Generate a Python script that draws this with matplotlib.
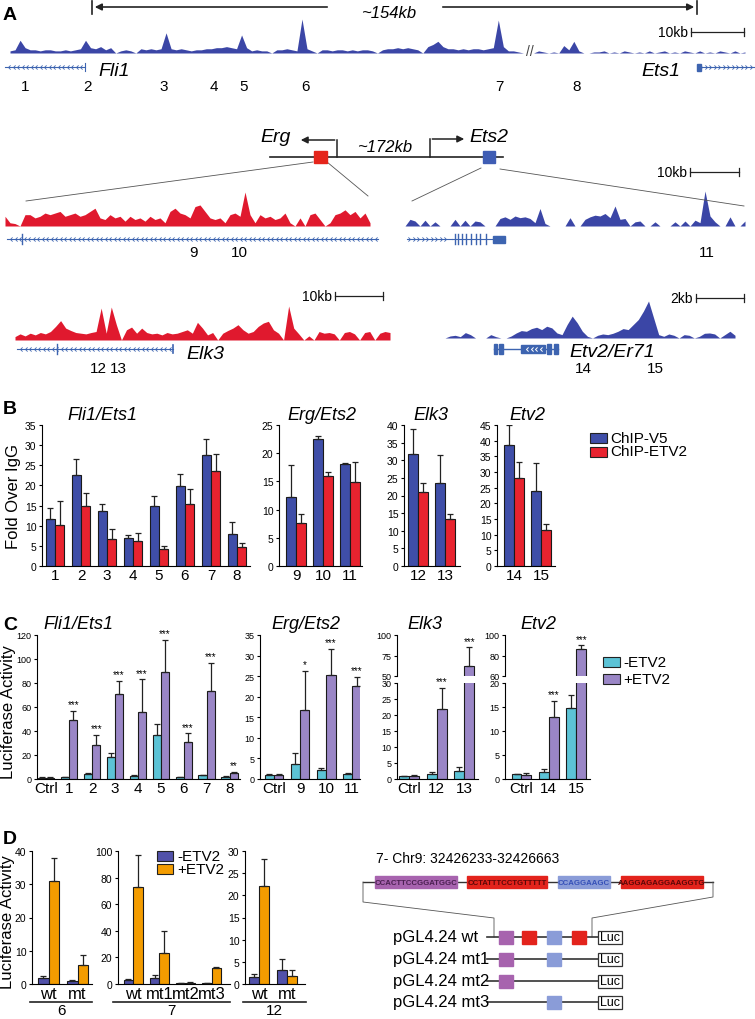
import numpy as np
import matplotlib
matplotlib.use("Agg")
import matplotlib.pyplot as plt
from matplotlib.patches import Rectangle

plt.rcParams['font.family'] = ['Liberation Sans', 'DejaVu Sans']

# ---------------- data: panel A coverage tracks ----------------
fli1_cov = [2, 3, 12, 5, 3, 3, 2, 3, 3, 2, 2, 3, 2, 3, 4, 12, 5, 4, 6, 3, 5, 0, 2, 3, 2, 0,
            4, 3, 4, 3, 4, 19, 4, 3, 4, 3, 2, 3, 3, 4, 4, 5, 5, 6, 5, 4, 17, 5,
            2, 3, 2, 2, 0, 3, 3, 4, 3, 2, 32, 4, 2, 0,
            3, 3, 2, 3, 3, 2, 3, 2, 3, 3, 2, 0, 3, 4, 4, 5, 4, 5, 4, 3, 0, 6, 8, 11, 6,
            4, 4, 3, 4, 3, 4, 4, 3, 4, 5, 31, 6, 2, 2, 1, 0, 0, 0, 2, 1, 0, 1, 0,
            7, 3, 11, 2, 0, 0, 1,
            1, 2, 0, 1, 0, 2, 1, 0, 1, 0, 2, 0, 1, 2, 0, 1, 0, 2, 1, 0, 2, 0, 1, 0, 2, 1, 0, 2, 0, 1]
erg_cov = [12, 4, 3, 0, 14, 14, 10, 12, 16, 14, 16, 18, 12, 14, 16, 12, 14, 18, 22, 10,
           8, 14, 10, 12, 6, 12, 8, 10, 6, 12, 8, 10, 4, 18, 22, 16, 14, 10, 24, 26,
           18, 10, 8, 10, 4, 14, 16, 12, 42, 14, 4, 14, 10, 12, 8, 10, 16, 4, 0, 10,
           0, 14, 16, 8, 0, 4, 14, 16, 20, 14, 18, 10, 16, 4]
ets2_cov = [0, 8, 6, 0, 7, 0, 5, 0, 0, 0, 8, 0, 7, 0, 6, 5, 0, 0, 0, 9, 11, 8, 12, 10, 11,
            9, 4, 21, 3, 0, 0, 0, 0, 10, 0, 0, 8, 11, 13, 12, 15, 10, 24, 8, 9, 0, 5, 6, 0,
            0, 5, 0, 0, 0, 5, 0, 6, 0, 7, 4, 42, 12, 5, 0, 0, 11, 0, 0, 6]
elk3_cov = [10, 18, 12, 20, 15, 22, 18, 25, 40, 57, 35, 28, 22, 20, 18, 22, 25, 94, 20,
            97, 45, 0, 30, 38, 20, 35, 22, 18, 20, 15, 22, 18, 20, 25, 30, 20, 52, 35, 15,
            22, 0, 20, 28, 35, 45, 30, 20, 25, 40, 50, 55, 30, 20, 0, 100, 35, 18, 0, 12,
            0, 25, 20, 22, 18, 0, 22, 25, 18, 0, 22, 25, 0, 20, 25, 22]
etv2_cov = [0, 6, 8, 4, 16, 10, 0, 0, 0, 10, 4, 0, 0, 6, 15, 22, 20, 28, 32, 25, 35, 30,
            15, 10, 40, 65, 45, 20, 5, 0, 8, 12, 10, 14, 20, 28, 25, 40, 55, 80, 110, 60,
            10, 5, 12, 8, 0, 10, 8, 0, 5, 14, 15, 12, 0, 10, 20, 8]

fli1_regions = ['1', '2', '3', '4', '5', '6', '7', '8']
fli1_region_x = [25, 88, 164, 214, 244, 306, 499, 577]
erg_regions = ['9', '10', '11']
erg_region_x = [193, 239, 707]
elk3_regions = ['12', '13', '14', '15']
elk3_region_x = [98, 118, 583, 655]

# ---------------- data: panel B (ChIP fold over IgG) ----------------
b_fli1_sites = ['1', '2', '3', '4', '5', '6', '7', '8']
b_fli1_v5 = [11.7, 22.5, 13.7, 6.9, 15.0, 19.8, 27.5, 8.0]
b_fli1_v5_err = [2.6, 4.0, 1.7, 0.7, 2.3, 3.0, 4.1, 2.9]
b_fli1_etv2 = [10.1, 14.8, 6.7, 6.3, 4.3, 15.5, 23.7, 4.7]
b_fli1_etv2_err = [6.1, 3.4, 2.6, 1.9, 0.6, 3.7, 4.0, 0.9]

b_erg_sites = ['9', '10', '11']
b_erg_v5 = [12.2, 22.5, 18.0]
b_erg_v5_err = [5.7, 0.6, 0.2]
b_erg_etv2 = [7.7, 16.0, 14.9]
b_erg_etv2_err = [1.6, 0.7, 3.6]

b_elk3_sites = ['12', '13']
b_elk3_v5 = [31.7, 23.6]
b_elk3_v5_err = [7.3, 8.0]
b_elk3_etv2 = [21.0, 13.4]
b_elk3_etv2_err = [2.6, 1.3]

b_etv2_sites = ['14', '15']
b_etv2_v5 = [38.7, 23.8]
b_etv2_v5_err = [6.3, 9.0]
b_etv2_etv2 = [28.0, 11.4]
b_etv2_etv2_err = [5.3, 1.9]

# ---------------- data: panel C (luciferase) ----------------
c_fli1_sites = ['Ctrl', '1', '2', '3', '4', '5', '6', '7', '8']
c_fli1_minus = [1.0, 1.5, 4.5, 18.0, 2.5, 37.0, 1.5, 3.0, 2.0]
c_fli1_minus_err = [0.3, 0.5, 0.6, 3.5, 0.6, 9.0, 0.5, 0.5, 0.5]
c_fli1_plus = [1.0, 49.0, 28.0, 71.0, 56.0, 89.0, 31.0, 73.0, 5.0]
c_fli1_plus_err = [0.3, 8.0, 9.0, 11.0, 27.0, 27.0, 7.0, 24.0, 1.2]
c_fli1_stars = ['', '***', '***', '***', '***', '***', '***', '***', '**']

c_erg_sites = ['Ctrl', '9', '10', '11']
c_erg_minus = [1.0, 3.6, 2.2, 1.2]
c_erg_minus_err = [0.1, 2.6, 0.5, 0.2]
c_erg_plus = [0.9, 16.7, 25.2, 22.6]
c_erg_plus_err = [0.3, 9.6, 6.5, 2.3]
c_erg_stars = ['', '*', '***', '***']

c_elk3_sites = ['Ctrl', '12', '13']
c_elk3_minus = [0.8, 1.5, 2.5]
c_elk3_minus_err = [0.2, 0.8, 1.2]
c_elk3_plus = [0.8, 22.0, 62.0]
c_elk3_plus_err = [0.3, 6.5, 23.0]
c_elk3_stars = ['', '***', '***']

c_etv2_sites = ['Ctrl', '14', '15']
c_etv2_minus = [1.0, 1.5, 14.8]
c_etv2_minus_err = [0.1, 0.6, 2.6]
c_etv2_plus = [0.9, 13.0, 86.0]
c_etv2_plus_err = [0.3, 3.3, 4.0]
c_etv2_stars = ['', '***', '***']

# ---------------- data: panel D (mutants) ----------------
d6_sites = ['wt', 'mt']
d6_minus = [1.8, 0.8]
d6_minus_err = [0.5, 0.4]
d6_plus = [31.0, 5.8]
d6_plus_err = [7.0, 3.0]

d7_sites = ['wt', 'mt1', 'mt2', 'mt3']
d7_minus = [3.0, 4.5, 0.5, 0.5]
d7_minus_err = [0.5, 2.5, 0.2, 0.2]
d7_plus = [73.0, 23.0, 1.0, 12.0]
d7_plus_err = [24.0, 17.0, 0.3, 0.5]

d12_sites = ['wt', 'mt']
d12_minus = [1.5, 3.1]
d12_minus_err = [0.8, 2.6]
d12_plus = [22.0, 1.7]
d12_plus_err = [6.3, 1.5]

seq_blocks = ['CCACTTCCGGATGGC', 'CCTATTTCCTGTTTTT', 'CCAGGAAGC', 'AAGGAGAGGAAGGTG']
seq_kinds = ['purple', 'red', 'blue', 'red']
constructs = ['pGL4.24 wt', 'pGL4.24 mt1', 'pGL4.24 mt2', 'pGL4.24 mt3']
construct_sites = [[0, 1, 2, 3], [0, 2], [0], [2]]

# ---------------- colours ----------------
BLUE_T = '#3b46a6'
RED_T = '#e0192e'
GENE = '#3d64b0'
V5 = '#3f4ea8'
ETV = '#e8232f'
CYAN = '#5cc3d6'
LILAC = '#9a86c6'
NAVY = '#5151a9'
ORANGE = '#f39c00'
SITE = {'purple': '#a763ae', 'red': '#e3231c', 'blue': '#8a9cd8'}
SITE_TXT = {'purple': '#4a1f50', 'red': '#5a0808', 'blue': '#3550b8'}

W, H = 755, 1020
fig = plt.figure(figsize=(W / 100, H / 100), dpi=100)


def px_axes(x0, y0, x1, y1):
    return fig.add_axes([x0 / W, 1 - y1 / H, (x1 - x0) / W, (y1 - y0) / H])


ov = px_axes(0, 0, W, H)
ov.set_xlim(0, W)
ov.set_ylim(H, 0)
ov.axis('off')

# ================= Panel A =================
ov.text(3, 15, 'A', fontsize=14, fontweight='bold', va='center')


def track(cov, x0, x1, base, height, color):
    x = np.linspace(x0, x1, len(cov))
    h = np.array(cov, dtype=float) / max(cov) * height
    ov.fill_between(x, base, base - h, color=color, lw=0)


def gene(x0, x1, y, direction, color=GENE, step=4.5):
    ov.plot([x0, x1], [y, y], color=color, lw=0.8)
    xs = np.arange(x0 + 3, x1 - 2, step)
    if direction < 0:
        m = [(1, 1), (0, 0), (1, -1)]
    else:
        m = [(-1, 1), (0, 0), (-1, -1)]
    ov.plot(xs, np.full(len(xs), y), ls='none', marker=m, ms=3, mfc='none', mec=color, mew=0.6)


def scalebar(x0, x1, y, label):
    ov.plot([x0, x1], [y, y], color='#222', lw=0.9)
    ov.plot([x0, x0], [y - 4, y + 4], color='#222', lw=0.9)
    ov.plot([x1, x1], [y - 4, y + 4], color='#222', lw=0.9)
    ov.text(x0 - 3, y, label, fontsize=10, ha='right', va='center')


# span arrow
ov.annotate('', xy=(92, 8), xytext=(330, 8), arrowprops=dict(arrowstyle='-|>', color='#222', lw=1.2))
ov.plot([92, 92], [2, 15], color='#222', lw=1.2)
ov.annotate('', xy=(697, 8), xytext=(440, 8), arrowprops=dict(arrowstyle='-|>', color='#222', lw=1.2))
ov.plot([697, 697], [2, 15], color='#222', lw=1.2)
ov.text(389, 13, '~154kb', fontsize=12, style='italic', ha='center', va='center')

track(fli1_cov, 10, 745, 54, 34, BLUE_T)
ov.text(530, 52, '//', fontsize=10, ha='center', va='center', color='#444')
scalebar(691, 744, 33, '10kb')
gene(5, 85, 68, -1)
ov.plot([85, 85], [64, 72], color=GENE, lw=0.8)
ov.text(98, 72, 'Fli1', fontsize=14, style='italic', va='center')
gene(699, 755, 68, 1)
ov.add_patch(Rectangle((697, 65), 4, 7, color=GENE))
ov.text(680, 72, 'Ets1', fontsize=14, style='italic', va='center', ha='right')
for lab, x in zip(fli1_regions, fli1_region_x):
    ov.text(x, 87, lab, fontsize=11, ha='center', va='center')

# Erg / Ets2 locus
ov.plot([270, 503], [158, 158], color='#222', lw=1.2)
ov.add_patch(Rectangle((314, 152), 13, 12, color='#e5251b', zorder=3))
ov.add_patch(Rectangle((483, 152), 12, 12, color='#3f5db4', zorder=3))
ov.plot([337, 337], [158, 141], color='#222', lw=1.1)
ov.annotate('', xy=(298, 141), xytext=(337.5, 141), arrowprops=dict(arrowstyle='-|>', color='#222', lw=1.1))
ov.text(291, 137, 'Erg', fontsize=14, style='italic', ha='right', va='center')
ov.plot([430, 430], [158, 140], color='#222', lw=1.1)
ov.annotate('', xy=(467, 140), xytext=(429.5, 140), arrowprops=dict(arrowstyle='-|>', color='#222', lw=1.1))
ov.text(469, 137, 'Ets2', fontsize=14, style='italic', ha='left', va='center')
ov.text(385, 148, '~172kb', fontsize=12, style='italic', ha='center', va='center')
for (xa, ya), (xb, yb) in [((313, 163), (26, 202)), ((327, 163), (368, 197)),
                           ((481, 169), (412, 202)), ((500, 170), (744, 207))]:
    ov.plot([xa, xb], [ya, yb], color='#555', lw=0.6)
scalebar(690, 739, 173, '10kb')

track(erg_cov, 5, 370, 227, 34, RED_T)
track(ets2_cov, 405, 745, 227, 35, BLUE_T)
gene(7, 378, 240, -1)
ov.plot([22, 22], [235, 245], color=GENE, lw=1.0)
gene(407, 452, 240, 1)
ov.plot([452, 505], [240, 240], color=GENE, lw=0.8)
for ex in [455, 458, 462, 466, 471, 476, 480, 486]:
    ov.plot([ex, ex], [235, 245], color=GENE, lw=1.0)
ov.add_patch(Rectangle((493, 236.5), 12, 7, color=GENE))
for lab, x in zip(erg_regions, erg_region_x):
    ov.text(x, 253, lab, fontsize=11, ha='center', va='center')

# Elk3 / Etv2
scalebar(335, 383, 297, '10kb')
scalebar(696, 744, 299, '2kb')
track(elk3_cov, 15, 390, 341, 34, RED_T)
track(etv2_cov, 445, 735, 339, 37, BLUE_T)
gene(17, 173, 350, -1)
ov.plot([57, 57], [345, 355], color=GENE, lw=1.0)
ov.plot([173, 173], [346, 354], color=GENE, lw=1.2)
ov.text(186, 355, 'Elk3', fontsize=14, style='italic', va='center')
ov.plot([494, 558], [350, 350], color=GENE, lw=1.0)
for x0, w, h in [(494, 3, 10), (499, 4, 10), (521, 24, 8), (547, 4, 10), (554, 4, 10)]:
    ov.add_patch(Rectangle((x0, 350 - h / 2), w, h, color=GENE))
ov.plot(np.arange(526, 543, 4.5), np.full(4, 350), ls='none', marker=[(1, 1), (0, 0), (1, -1)],
        ms=3, mfc='none', mec='white', mew=0.7)
ov.text(569, 353, 'Etv2/Er71', fontsize=14, style='italic', va='center')
for lab, x in zip(elk3_regions, elk3_region_x):
    ov.text(x, 369, lab, fontsize=11, ha='center', va='center')


# ================= bar helpers =================
def clean(ax, yticks, fs):
    ax.spines['top'].set_visible(False)
    ax.spines['right'].set_visible(False)
    ax.set_yticks(yticks)
    ax.tick_params(axis='y', labelsize=fs, length=2.5, width=0.8, pad=1.5)
    ax.tick_params(axis='x', length=0, pad=1.5)
    ax.patch.set_alpha(0)


def bar_pairs(ax, labels, a, a_err, b, b_err, ca, cb, w, xfs, show_labels=True):
    x = np.arange(len(labels))
    for off, vals, errs, c in [(-w / 2, a, a_err, ca), (w / 2, b, b_err, cb)]:
        ax.bar(x + off, vals, w, color=c, edgecolor='#1a1a1a', linewidth=0.8, zorder=2)
        ax.errorbar(x + off, vals, yerr=[np.zeros(len(vals)), errs], fmt='none', ecolor='#222',
                    elinewidth=0.9, capsize=2.2, capthick=0.9, zorder=3)
    ax.set_xticks(x)
    if show_labels:
        ax.set_xticklabels(labels, fontsize=xfs)
    else:
        ax.set_xticklabels([])
    return x


# ================= Panel B =================
ov.text(3, 410, 'B', fontsize=14, fontweight='bold', va='center')
ov.text(14, 497, 'Fold Over IgG', fontsize=12, rotation=90, ha='center', va='center')

b_specs = [
    ((42, 426, 250, 567), (-0.5, 7.5), 35, b_fli1_sites, b_fli1_v5, b_fli1_v5_err, b_fli1_etv2, b_fli1_etv2_err, 'Fli1/Ets1', 102),
    ((279, 426, 362, 567), (-0.63, 2.44), 25, b_erg_sites, b_erg_v5, b_erg_v5_err, b_erg_etv2, b_erg_etv2_err, 'Erg/Ets2', 322),
    ((404, 426, 460, 567), (-0.52, 1.55), 40, b_elk3_sites, b_elk3_v5, b_elk3_v5_err, b_elk3_etv2, b_elk3_etv2_err, 'Elk3', 431),
    ((497, 426, 555, 567), (-0.63, 1.52), 45, b_etv2_sites, b_etv2_v5, b_etv2_v5_err, b_etv2_etv2, b_etv2_etv2_err, 'Etv2', 527),
]
for rect, xl, ymax, sites, a, ae, b, be, title, tx in b_specs:
    ax = px_axes(*rect)
    bar_pairs(ax, sites, a, ae, b, be, V5, ETV, 0.36, 11)
    ax.set_xlim(*xl)
    ax.set_ylim(0, ymax)
    clean(ax, np.arange(0, ymax + 1, 5), 7.5)
    ov.text(tx, 416, title, fontsize=13, style='italic', ha='center', va='center')

for i, (lab, c) in enumerate([('ChIP-V5', V5), ('ChIP-ETV2', ETV)]):
    ov.add_patch(Rectangle((590, 434 + i * 13.5), 17, 10, facecolor=c, edgecolor='#222', lw=0.8))
    ov.text(610, 439 + i * 13.5, lab, fontsize=11, va='center')

# ================= Panel C =================
ov.text(3, 626, 'C', fontsize=14, fontweight='bold', va='center')
ov.text(9, 712, 'Luciferase Activity', fontsize=12, rotation=90, ha='center', va='center')


def stars(ax, x, tops, marks):
    for xi, t, s in zip(x, tops, marks):
        if s:
            ax.annotate(s, (xi, t), xytext=(0, 1), textcoords='offset points', ha='center',
                        va='bottom', fontsize=7, annotation_clip=False)


W_C = 0.36
c_simple = [
    ((37, 636, 240, 780), (-0.4, 8.45), 120, 20, c_fli1_sites, c_fli1_minus, c_fli1_minus_err, c_fli1_plus, c_fli1_plus_err, c_fli1_stars, 'Fli1/Ets1', 78),
    ((260, 636, 360, 780), (-0.54, 3.3), 35, 5, c_erg_sites, c_erg_minus, c_erg_minus_err, c_erg_plus, c_erg_plus_err, c_erg_stars, 'Erg/Ets2', 306),
]
for rect, xl, ymax, st, sites, a, ae, b, be, mk, title, tx in c_simple:
    ax = px_axes(*rect)
    x = bar_pairs(ax, sites, a, ae, b, be, CYAN, LILAC, W_C, 11)
    ax.set_xlim(*xl)
    ax.set_ylim(0, ymax)
    clean(ax, np.arange(0, ymax + 1, st), 6.5)
    stars(ax, x + W_C / 2, np.array(b) + np.array(be), mk)
    ov.text(tx, 625, title, fontsize=13, style='italic', ha='center', va='center')

c_broken = [
    (397, 478, (-0.45, 2.5), (50, 100), [50, 75, 100], 30, c_elk3_sites, c_elk3_minus, c_elk3_minus_err, c_elk3_plus, c_elk3_plus_err, c_elk3_stars, 'Elk3', 425),
    (505, 590, (-0.6, 2.5), (60, 100), [60, 80, 100], 20, c_etv2_sites, c_etv2_minus, c_etv2_minus_err, c_etv2_plus, c_etv2_plus_err, c_etv2_stars, 'Etv2', 538),
]
for x0, x1, xl, ylu, tku, ymaxl, sites, a, ae, b, be, mk, title, tx in c_broken:
    up = px_axes(x0, 636, x1, 677)
    lo = px_axes(x0, 684, x1, 780)
    for ax, show in [(up, False), (lo, True)]:
        x = bar_pairs(ax, sites, a, ae, b, be, CYAN, LILAC, W_C, 11, show)
        ax.set_xlim(*xl)
    up.set_ylim(*ylu)
    lo.set_ylim(0, ymaxl)
    clean(up, tku, 6.5)
    clean(lo, np.arange(0, ymaxl + 1, 5), 6.5)
    up.spines['bottom'].set_visible(False)
    tops = np.array(b) + np.array(be)
    for xi, t, s in zip(x + W_C / 2, tops, mk):
        stars(up if t > ymaxl else lo, [xi], [t], [s])
    ov.text(tx, 625, title, fontsize=13, style='italic', ha='center', va='center')

for i, (lab, c) in enumerate([('-ETV2', CYAN), ('+ETV2', LILAC)]):
    ov.add_patch(Rectangle((603, 658 + i * 17), 17, 10, facecolor=c, edgecolor='#222', lw=0.8))
    ov.text(623, 663 + i * 17, lab, fontsize=11, va='center')

# ================= Panel D =================
ov.text(3, 840, 'D', fontsize=14, fontweight='bold', va='center')
ov.text(8, 922, 'Luciferase Activity', fontsize=12, rotation=90, ha='center', va='center')

d_specs = [
    ((32, 852, 92, 985), (-0.57, 1.5), 40, 10, d6_sites, d6_minus, d6_minus_err, d6_plus, d6_plus_err, '6', (30, 92)),
    ((118, 852, 230, 985), (-0.58, 3.7), 100, 20, d7_sites, d7_minus, d7_minus_err, d7_plus, d7_plus_err, '7', (113, 230)),
    ((245, 852, 305, 985), (-0.5, 1.64), 30, 5, d12_sites, d12_minus, d12_minus_err, d12_plus, d12_plus_err, '12', (243, 306)),
]
for rect, xl, ymax, st, sites, a, ae, b, be, grp, (u0, u1) in d_specs:
    ax = px_axes(*rect)
    bar_pairs(ax, sites, a, ae, b, be, NAVY, ORANGE, 0.36, 12)
    ax.set_xlim(*xl)
    ax.set_ylim(0, ymax)
    clean(ax, np.arange(0, ymax + 1, st), 7.5)
    ov.plot([u0, u1], [1003, 1003], color='#222', lw=1.2)
    ov.text((u0 + u1) / 2, 1011, grp, fontsize=11, ha='center', va='center')

for i, (lab, c) in enumerate([('-ETV2', NAVY), ('+ETV2', ORANGE)]):
    ov.add_patch(Rectangle((157, 852 + i * 13), 16, 10, facecolor=c, edgecolor='#222', lw=0.8))
    ov.text(177, 857 + i * 13, lab, fontsize=11, va='center')

# construct diagram
ov.text(376, 859, '7- Chr9: 32426233-32426663', fontsize=10, va='center')
box_x = [(375, 457), (467, 547), (558, 610), (621, 703)]
ov.plot([363, 713], [883, 883], color='#333', lw=1.0)
for seq, kind, (bx0, bx1) in zip(seq_blocks, seq_kinds, box_x):
    ov.add_patch(Rectangle((bx0, 877), bx1 - bx0, 12, color=SITE[kind], zorder=3))
    ov.text((bx0 + bx1) / 2, 883.5, seq, fontsize=5.6, ha='center', va='center',
            color=SITE_TXT[kind], fontweight='bold', zorder=4)
ov.plot([363, 363, 494, 494], [883, 903, 919, 938], color='#555', lw=0.6)
ov.plot([713, 713, 592, 592], [883, 898, 919, 938], color='#555', lw=0.6)

site_x = [499, 522, 547, 572]
rows_y = [938, 960, 982, 1003]
for name, sl, y in zip(constructs, construct_sites, rows_y):
    ov.text(393, y, name, fontsize=12, va='center')
    ov.plot([487, 598], [y, y], color='#333', lw=1.2)
    for s in sl:
        ov.add_patch(Rectangle((site_x[s], y - 6.5), 14, 13, color=SITE[seq_kinds[s]], zorder=3))
    ov.add_patch(Rectangle((598, y - 6.5), 24, 13, facecolor='white', edgecolor='#333', lw=0.9, zorder=3))
    ov.text(610, y, 'Luc', fontsize=9, ha='center', va='center', zorder=4)

fig.savefig('out.png', dpi=100)
